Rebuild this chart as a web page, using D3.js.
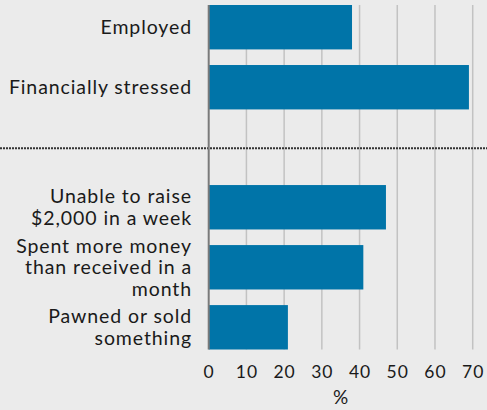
<!DOCTYPE html>
<html>
<head>
<meta charset="utf-8">
<script src="https://cdn.jsdelivr.net/npm/d3@7"></script>
<style>
  html, body { margin: 0; padding: 0; background: #ebebeb; }
  svg { display: block; }
  text { font-family: Lato, "Noto Sans", sans-serif; fill: #1a1a1a; }
</style>
</head>
<body>
<svg id="chart" width="487" height="410"></svg>
<script>
// Share of respondents (%) for each item; the blank slot separates the two groups
const categories = ["Employed", "Financially stressed", "", "Unable to raise $2,000 in a week",
  "Spent more money than received in a month", "Pawned or sold something"];
const labelLines = [
  ["Employed"],
  ["Financially stressed"],
  [],
  ["Unable to raise", "$2,000 in a week"],
  ["Spent more money", "than received in a", "month"],
  ["Pawned or sold", "something"]
];
const values = [38, 69, null, 47, 41, 21];
const xTicks = [0, 10, 20, 30, 40, 50, 60, 70];
const xTitle = "%";

const svg = d3.select("#chart");
const W = 487, H = 410;
const plotLeft = 208.7, plotRight = 472.7, plotTop = 5, plotBottom = 349.5;

const x = d3.scaleLinear().domain([0, 70]).range([plotLeft, plotRight]);
const y = d3.scaleBand().domain(categories.map((c, i) => i)).range([plotTop, plotBottom])
  .paddingInner(0.26).paddingOuter(0);

// vertical gridlines
svg.append("g").selectAll("line").data(xTicks.filter(t => t > 0)).join("line")
  .attr("x1", d => x(d)).attr("x2", d => x(d))
  .attr("y1", plotTop).attr("y2", plotBottom)
  .attr("stroke", "#c2c2c2").attr("stroke-width", 1.5);

// divider between the two groups
const divY = y(2) + y.bandwidth() / 2 + 1;
svg.append("line")
  .attr("x1", 0).attr("x2", W).attr("y1", divY).attr("y2", divY)
  .attr("stroke", "#333").attr("stroke-width", 2).attr("stroke-dasharray", "2,1");

// bars
svg.append("g").selectAll("rect").data(values.map((v, i) => ({ v, i })).filter(d => d.v !== null))
  .join("rect")
  .attr("x", x(0))
  .attr("y", d => y(d.i))
  .attr("width", d => x(d.v) - x(0))
  .attr("height", y.bandwidth())
  .attr("fill", "#0074a8");

// zero line
svg.append("line")
  .attr("x1", x(0)).attr("x2", x(0)).attr("y1", plotTop).attr("y2", plotBottom)
  .attr("stroke", "#7a7a7a").attr("stroke-width", 2);

// category labels (multi-line, centred on the bar)
const lh = 21.5;
const labels = svg.append("g").attr("font-size", 19.5).attr("text-anchor", "end")
  .attr("letter-spacing", 0.9);
labelLines.forEach((lines, i) => {
  if (!lines.length) return;
  const cy = y(i) + y.bandwidth() / 2;
  const y0 = cy - (lines.length - 1) * lh / 2;
  const t = labels.append("text");
  lines.forEach((ln, k) => {
    t.append("tspan").attr("x", 192).attr("y", y0 + k * lh).attr("dy", "0.35em").text(ln);
  });
});

// x axis labels
const xAxis = d3.axisBottom(x).tickValues(xTicks).tickSize(0).tickPadding(0);
const ax = svg.append("g").attr("transform", `translate(0, ${plotBottom})`).call(xAxis);
ax.select(".domain").remove();
ax.selectAll("text").attr("font-size", 17.5).attr("fill", "#1a1a1a")
  .attr("font-family", "Lato, 'Noto Sans', sans-serif")
  .attr("letter-spacing", 1)
  .attr("y", 28).attr("dy", 0);

svg.append("text").attr("x", (plotLeft + plotRight) / 2).attr("y", 404)
  .attr("text-anchor", "middle").attr("font-size", 19).text(xTitle);
</script>
</body>
</html>
